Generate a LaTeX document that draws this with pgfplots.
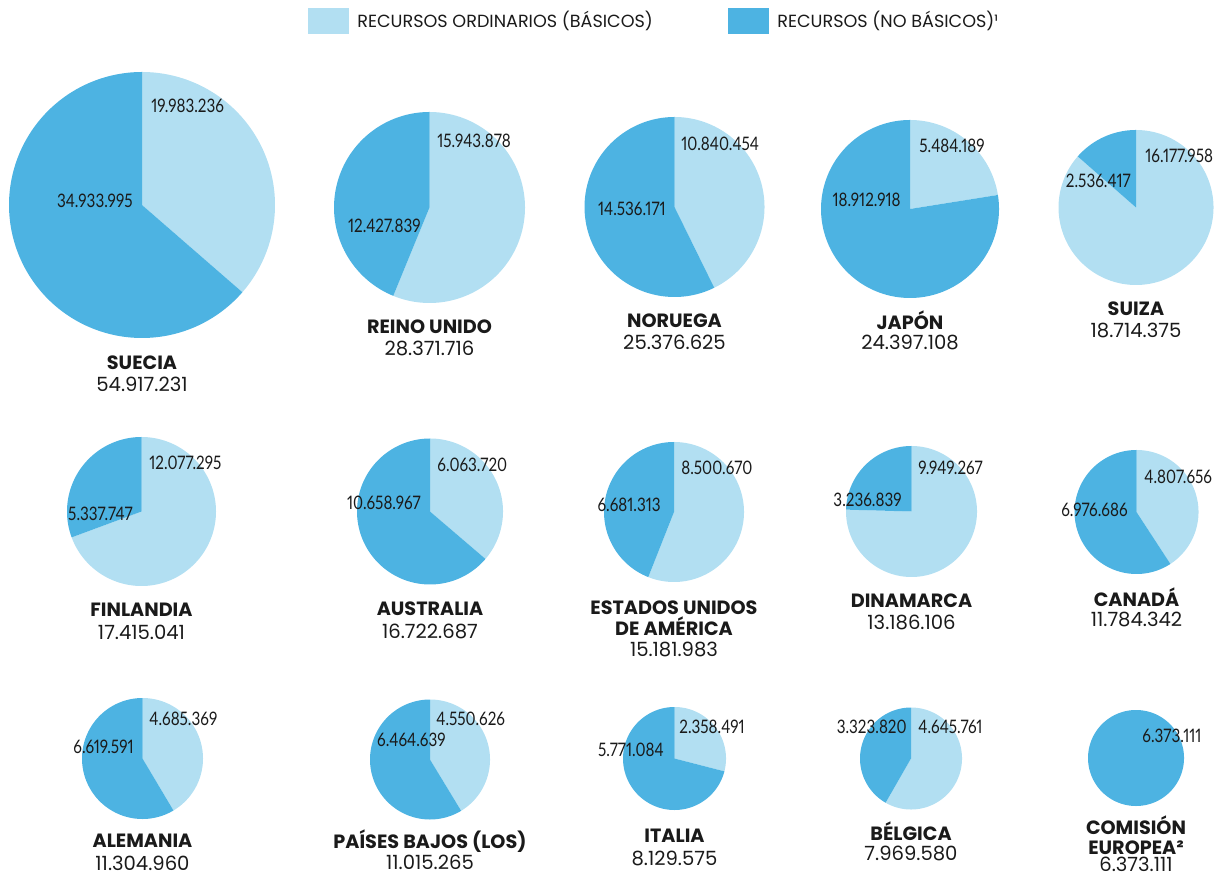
\documentclass[border=0pt]{standalone}
\usepackage{pgfplots}
\pgfplotsset{compat=1.18}
\usepackage{fontspec}
\setmainfont{Poppins}
\newfontfamily\condfont[FakeStretch=0.82,Numbers=Proportional]{Lato}
\definecolor{lightb}{HTML}{B2DFF2}
\definecolor{darkb}{HTML}{4DB3E2}
\definecolor{txt}{HTML}{1A1A1A}
% pie: cx, cy, r, basic (millions), non-basic (millions)
\newcommand\pie[5]{%
  \pgfmathsetmacro\pieAng{360*#4/(#4+#5)}%
  \pgfmathsetmacro\pieA{90-\pieAng}%
  \edef\pieDo{%
    \noexpand\addplot[fill=lightb,draw=none,domain=\pieA:90,samples=181] ({#1+#3*cos(x)},{#2+#3*sin(x)}) -- (axis cs:#1,#2) -- cycle;
    \noexpand\addplot[fill=darkb,draw=none,domain=-270:\pieA,samples=181] ({#1+#3*cos(x)},{#2+#3*sin(x)}) -- (axis cs:#1,#2) -- cycle;
  }%
  \pieDo}
\tikzset{
  val/.style={font=\condfont\fontsize{9.3}{10}\selectfont, text=txt, inner sep=0pt},
  nm/.style={font=\bfseries\fontsize{9.6}{10.3}\selectfont, text=txt, inner sep=0pt, align=center},
  tot/.style={font=\fontsize{9.8}{9}\selectfont, text=txt, inner sep=0pt},
  leg/.style={font=\fontsize{8.8}{9}\selectfont, text=txt, inner sep=0pt, anchor=west}
}
\begin{document}
\begin{tikzpicture}
\begin{axis}[
  scale only axis, width=609pt, height=439pt,
  xmin=0, xmax=1218, ymin=0, ymax=878,
  hide axis, clip=false]
% row 1
\pie{142}{673}{133}{19.983236}{34.933995}
\pie{429.5}{670.5}{95.5}{15.943878}{12.427839}
\pie{674.5}{671}{90}{10.840454}{14.536171}
\pie{910}{669}{89}{5.484189}{18.912918}
\pie{1136}{670.5}{77.5}{16.177958}{2.536417}
% row 2
\pie{141.5}{366.5}{74.5}{12.077295}{5.337747}
\pie{430}{366.5}{73}{6.063720}{10.658967}
\pie{674}{366}{70}{8.500670}{6.681313}
\pie{911.5}{366.5}{65.5}{9.949267}{3.236839}
\pie{1136.5}{366}{62}{4.807656}{6.976686}
% row 3
\pie{142.5}{119.5}{60.5}{4.685369}{6.619591}
\pie{430}{118.5}{60}{4.550626}{6.464639}
\pie{674.5}{119.5}{51.5}{2.358491}{5.771084}
\pie{911}{119.5}{51}{4.645761}{3.323820}
\addplot[fill=darkb,draw=none,domain=-270:90,samples=181] ({1136+48*cos(x)},{120+48*sin(x)}) -- cycle;

% basic labels
\node[val,anchor=west] at (axis cs:151,772) {19.983.236};
\node[val,anchor=west] at (axis cs:437,737) {15.943.878};
\node[val,anchor=west] at (axis cs:681,734) {10.840.454};
\node[val,anchor=west] at (axis cs:919,732) {5.484.189};
\node[val,anchor=west] at (axis cs:1145,722) {16.177.958};
\node[val,anchor=west] at (axis cs:149,415) {12.077.295};
\node[val,anchor=west] at (axis cs:437,413) {6.063.720};
\node[val,anchor=west] at (axis cs:681,410) {8.500.670};
\node[val,anchor=west] at (axis cs:918,410) {9.949.267};
\node[val,anchor=west] at (axis cs:1144,401) {4.807.656};
\node[val,anchor=west] at (axis cs:149,159) {4.685.369};
\node[val,anchor=west] at (axis cs:436,159) {4.550.626};
\node[val,anchor=west] at (axis cs:679,151) {2.358.491};
\node[val,anchor=west] at (axis cs:918,151) {4.645.761};
\node[val,anchor=west] at (axis cs:1142,142) {6.373.111};
% non-basic labels
\node[val,anchor=east] at (axis cs:133,677) {34.933.995};
\node[val,anchor=east] at (axis cs:421,652) {12.427.839};
\node[val,anchor=east] at (axis cs:666,669) {14.536.171};
\node[val,anchor=east] at (axis cs:901,678) {18.912.918};
\node[val,anchor=east] at (axis cs:1131,697) {2.536.417};
\node[val,anchor=east] at (axis cs:133,364) {5.337.747};
\node[val,anchor=east] at (axis cs:421,375) {10.658.967};
\node[val,anchor=east] at (axis cs:661,373) {6.681.313};
\node[val,anchor=east] at (axis cs:902,378) {3.236.839};
\node[val,anchor=east] at (axis cs:1128,368) {6.976.686};
\node[val,anchor=east] at (axis cs:134,131) {6.619.591};
\node[val,anchor=east] at (axis cs:446,138) {6.464.639};
\node[val,anchor=east] at (axis cs:664,128) {5.771.084};
\node[val,anchor=east] at (axis cs:907,151) {3.323.820};
% names and totals
\node[nm] at (axis cs:142,515) {SUECIA};
\node[tot] at (axis cs:142,494) {54.917.231};
\node[nm] at (axis cs:429.5,551) {REINO UNIDO};
\node[tot] at (axis cs:429.5,530) {28.371.716};
\node[nm] at (axis cs:674.5,557) {NORUEGA};
\node[tot] at (axis cs:674.5,536) {25.376.625};
\node[nm] at (axis cs:910,558) {JAPÓN};
\node[tot] at (axis cs:910,536) {24.397.108};
\node[nm] at (axis cs:1136,569) {SUIZA};
\node[tot] at (axis cs:1136,548) {18.714.375};
\node[nm] at (axis cs:141.5,268) {FINLANDIA};
\node[tot] at (axis cs:141.5,246) {17.415.041};
\node[nm] at (axis cs:430,269) {AUSTRALIA};
\node[tot] at (axis cs:430,247) {16.722.687};
\node[nm] at (axis cs:674,260) {ESTADOS UNIDOS\\DE AMÉRICA};
\node[tot] at (axis cs:674,229) {15.181.983};
\node[nm] at (axis cs:911.5,277) {DINAMARCA};
\node[tot] at (axis cs:911.5,256) {13.186.106};
\node[nm] at (axis cs:1136.5,281) {CANADÁ};
\node[tot] at (axis cs:1136.5,259) {11.784.342};
\node[nm] at (axis cs:142.5,37) {ALEMANIA};
\node[tot] at (axis cs:142.5,15) {11.304.960};
\node[nm] at (axis cs:430,37) {PAÍSES BAJOS (LOS)};
\node[tot] at (axis cs:430,16) {11.015.265};
\node[nm] at (axis cs:674.5,42) {ITALIA};
\node[tot] at (axis cs:674.5,20) {8.129.575};
\node[nm] at (axis cs:911,47) {BÉLGICA};
\node[tot] at (axis cs:911,25) {7.969.580};
\node[nm,font=\bfseries\fontsize{9.6}{10}\selectfont] at (axis cs:1136,43) {COMISIÓN\\EUROPEA²};
\node[tot] at (axis cs:1136,13.5) {6.373.111};
% legend
\fill[lightb] (axis cs:308,844) rectangle (axis cs:349,870);
\fill[darkb] (axis cs:728,844) rectangle (axis cs:769,870);
\node[leg] at (axis cs:357,857) {RECURSOS ORDINARIOS (BÁSICOS)};
\node[leg] at (axis cs:777,857) {RECURSOS (NO BÁSICOS)¹};
\end{axis}
\pgfresetboundingbox
\useasboundingbox (0,0) rectangle (609pt,439pt);
\end{tikzpicture}
\end{document}
